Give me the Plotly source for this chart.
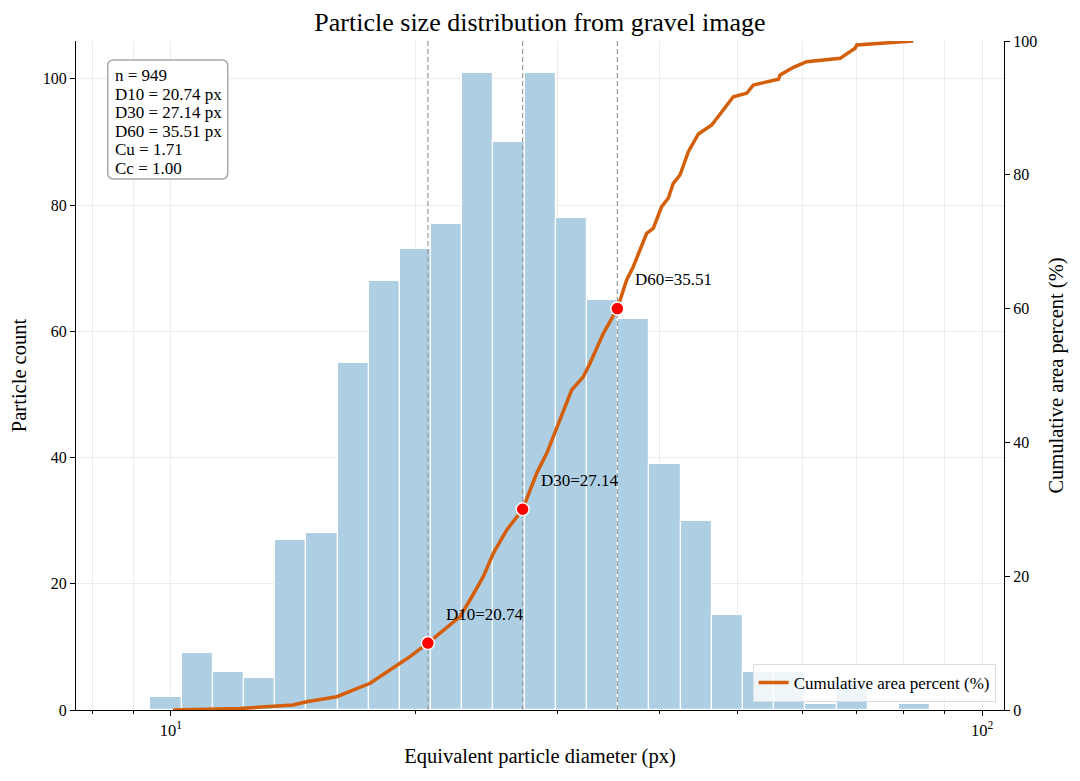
import math
import plotly.graph_objects as go

# histogram bins (log spaced edges, px) and particle counts per bin
bin_edges = [9.434, 10.307, 11.261, 12.304, 13.443, 14.687, 16.047, 17.532, 19.155,
             20.928, 22.865, 24.982, 27.294, 29.821, 32.581, 35.597, 38.892, 42.492,
             46.426, 50.724, 55.419, 60.549, 66.154, 72.278, 78.969, 86.279]
counts = [2, 9, 6, 5, 27, 28, 55, 68, 73, 77, 101, 90, 101, 78, 65, 62, 39, 30,
          15, 6, 6, 1, 4, 0, 1]

# cumulative area curve
cum_d = [10.06, 12.16, 14.14, 14.70, 16.01, 17.60, 19.16, 19.71, 20.74, 21.67, 22.72,
         23.37, 24.27, 24.97, 25.94, 27.14, 28.24, 29.06, 30.18, 31.19, 32.24, 32.86,
         34.13, 35.51, 36.46, 37.15, 38.59, 39.32, 40.27, 41.03, 41.62, 42.42, 43.44,
         44.69, 46.42, 47.97, 49.35, 51.27, 52.24, 56.09, 56.36, 58.53, 60.79, 66.83,
         69.73, 70.07, 77.73, 82.27]
cum_pct = [0.0, 0.22, 0.75, 1.24, 1.99, 3.99, 6.98, 7.97, 10.0, 11.96, 13.95,
           16.44, 19.93, 23.42, 26.91, 30.0, 35.38, 38.37, 43.35, 47.83, 49.82, 51.82,
           56.31, 60.0, 64.28, 66.26, 71.26, 72.0, 75.23, 76.49, 78.73, 79.97, 83.45,
           86.1, 87.44, 89.69, 91.67, 92.18, 93.42, 94.28, 94.92, 96.07, 96.91, 97.41,
           98.91, 99.4, 99.81, 100.0]

d_labels = ["D10", "D30", "D60"]
d_values = [20.74, 27.14, 35.51]
d_pct = [10, 30, 60]
stats = ["n = 949", "D10 = 20.74 px", "D30 = 27.14 px", "D60 = 35.51 px",
         "Cu = 1.71", "Cc = 1.00"]

FONT = "Liberation Serif, Times New Roman, serif"

centers = [(a + b) / 2 for a, b in zip(bin_edges[:-1], bin_edges[1:])]
widths = [b - a for a, b in zip(bin_edges[:-1], bin_edges[1:])]

fig = go.Figure()
fig.add_trace(go.Bar(x=centers, y=counts, width=widths, showlegend=False,
                     marker=dict(color="rgb(174,207,227)",
                                 line=dict(color="white", width=1.2))))

# dashed guides at D10/D30/D60, above bars but under the curve and markers
for dv in d_values:
    fig.add_trace(go.Scatter(x=[dv, dv], y=[0, 100], yaxis="y2", mode="lines",
                             showlegend=False, hoverinfo="skip",
                             line=dict(color="#9a9a9a", width=1.2, dash="5px,3px")))

fig.add_trace(go.Scatter(x=cum_d, y=cum_pct, yaxis="y2", mode="lines",
                         name="Cumulative area percent (%)",
                         line=dict(color="#d35f0a", width=3.5)))
fig.add_trace(go.Scatter(x=d_values, y=d_pct, yaxis="y2", mode="markers",
                         showlegend=False,
                         marker=dict(color="#ff0000", size=13,
                                     line=dict(color="white", width=1.5))))

for lab, dv, p in zip(d_labels, d_values, d_pct):
    # annotations on a log axis take log10 positions
    fig.add_annotation(x=math.log10(dv), y=p, xref="x", yref="y2",
                       text=f"{lab}={dv:.2f}", showarrow=False,
                       xanchor="left", yanchor="middle", xshift=16, yshift=29,
                       font=dict(family=FONT, size=17, color="black"))

# stats box: rounded frame + one annotation per line
bx0, bx1, by0, by1 = 0.0342, 0.1635, 0.7937, 0.9716
rx, ry = 0.0065, 0.009
fig.add_shape(type="path", xref="paper", yref="paper",
              path=(f"M {bx0+rx} {by1} L {bx1-rx} {by1} Q {bx1} {by1} {bx1} {by1-ry} "
                    f"L {bx1} {by0+ry} Q {bx1} {by0} {bx1-rx} {by0} "
                    f"L {bx0+rx} {by0} Q {bx0} {by0} {bx0} {by0+ry} "
                    f"L {bx0} {by1-ry} Q {bx0} {by1} {bx0+rx} {by1} Z"),
              line=dict(color="#a8a8a8", width=1.5), fillcolor="white", layer="above")
for i, s in enumerate(stats):
    fig.add_annotation(xref="paper", yref="paper", x=0.0402, y=0.9481 - i * 0.02765,
                       xanchor="left", yanchor="middle", showarrow=False, text=s,
                       font=dict(family=FONT, size=17, color="black"))

minor_vals = [8, 9, 20, 30, 40, 50, 60, 70, 80, 90]
fig.update_layout(
    width=1080, height=781,
    margin=dict(l=76, r=76, t=41, b=71),
    plot_bgcolor="white", paper_bgcolor="white",
    font=dict(family=FONT, size=16, color="black"),
    title=dict(text="Particle size distribution from gravel image", x=0.5, y=0.972,
               xanchor="center", yanchor="middle", font=dict(size=26)),
    bargap=0,
    xaxis=dict(type="log", range=[0.883, 2.027], showline=True, linecolor="black",
               linewidth=1.2, ticks="outside", ticklen=5, tickcolor="black",
               tickvals=[10, 100], ticktext=["10<sup>1</sup>", "10<sup>2</sup>"],
               tickfont=dict(size=16.5),
               showgrid=True, gridcolor="#ececec", gridwidth=1, zeroline=False,
               minor=dict(tickvals=minor_vals, ticks="outside", ticklen=3,
                          tickcolor="black", showgrid=True, gridcolor="#ececec"),
               title=dict(text="Equivalent particle diameter (px)",
                          font=dict(size=20.5), standoff=9)),
    yaxis=dict(range=[0, 106], showline=True, linecolor="black", linewidth=1.2,
               ticks="outside", ticklen=5, tickcolor="black", dtick=20,
               showgrid=True, gridcolor="#ececec", zeroline=False,
               title=dict(text="Particle count", font=dict(size=20.5), standoff=10)),
    yaxis2=dict(range=[0, 100], overlaying="y", side="right", showline=True,
                linecolor="black", linewidth=1.2, ticks="outside", ticklen=5,
                tickcolor="black", dtick=20, showgrid=False, zeroline=False,
                title=dict(text="Cumulative area percent (%)", font=dict(size=20.5),
                           standoff=12)),
    legend=dict(x=0.991, y=0.012, xanchor="right", yanchor="bottom",
                bgcolor="rgba(255,255,255,0.8)", bordercolor="#dddddd",
                borderwidth=1, font=dict(family=FONT, size=17)),
)

fig.write_html("out.html", config={"displayModeBar": False},
               post_script="document.body.style.margin='0px';")
